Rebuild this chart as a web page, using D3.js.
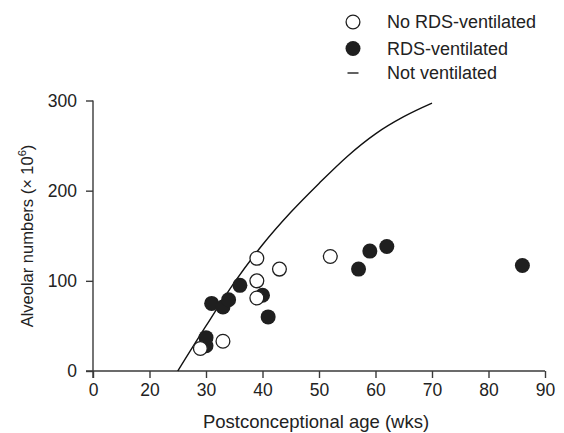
<!DOCTYPE html>
<html>
<head>
<meta charset="utf-8">
<script src="https://cdn.jsdelivr.net/npm/d3@7"></script>
<style>
    html, body { margin: 0; padding: 0; background: #fff; }
    svg { display: block; font-family: "Liberation Sans", Arial, Helvetica, sans-serif; }
    .axis path, .axis line { stroke: #3a3a3a; stroke-width: 1.4; }
    .axis text { fill: #222; font-size: 17.5px; }
</style>
</head>
<body>
<svg id="chart" width="564" height="433"></svg>
<script>
// values
const noRdsAge = [29, 33, 39, 39, 39, 43, 52]
const noRdsAlv = [25, 33, 125, 100, 81, 113, 127]

const rdsAge = [30, 30, 31, 33, 34, 36, 40, 41, 57, 59, 62, 86]
const rdsAlv = [28, 37, 75, 71, 79, 95, 84, 60, 113, 133, 138, 117]

// "Not ventilated" reference curve
const curveAge = [25, 30, 35, 40, 45, 50, 55, 60, 65, 70]
const curveAlv = [0, 50, 98, 140, 176, 208, 238, 263, 282, 297]

// x axis: first tick stands for the origin (axis is shortened before 20)
const xTickValues = [10, 20, 30, 40, 50, 60, 70, 80, 90]
const xTickLabels = ['0', '20', '30', '40', '50', '60', '70', '80', '90']
const yTickValues = [0, 100, 200, 300]

const legendLabels = ['No RDS-ventilated', 'RDS-ventilated', 'Not ventilated']

const svg = d3.select('#chart')

const x = d3.scaleLinear().domain([10, 90]).range([93, 545])
const y = d3.scaleLinear().domain([0, 300]).range([371, 100.5])

svg.append('g')
    .attr('class', 'axis')
    .attr('transform', `translate(0,${y(0)})`)
    .call(d3.axisBottom(x)
        .tickValues(xTickValues)
        .tickFormat((d, i) => xTickLabels[i])
        .tickSizeOuter(0)
        .tickSize(7)
        .tickPadding(6))
    .call(g => g.select('.domain').attr('d', `M${x(10) - 7},0H${x(90)}`))

svg.append('g')
    .attr('class', 'axis')
    .attr('transform', `translate(${x(10)},0)`)
    .call(d3.axisLeft(y)
        .tickValues(yTickValues)
        .tickSizeOuter(0)
        .tickSize(7)
        .tickPadding(9))
    .call(g => g.select('.domain').attr('d', `M0,${y(300)}V${y(0) + 7}`))

svg.append('text')
    .attr('x', 316)
    .attr('y', 428)
    .attr('text-anchor', 'middle')
    .attr('fill', '#222')
    .style('font-size', '18.5px')
    .text('Postconceptional age (wks)')

const yTitle = svg.append('text')
    .attr('transform', 'translate(33,236) rotate(-90)')
    .attr('text-anchor', 'middle')
    .attr('fill', '#222')
    .style('font-size', '16.5px')
yTitle.append('tspan').text('Alveolar numbers (\u00d7 10')
yTitle.append('tspan').attr('dy', -7).style('font-size', '11px').text('6')
yTitle.append('tspan').attr('dy', 7).text(')')

// curve
const curvePts = curveAge.map((a, i) => [a, curveAlv[i]])
svg.append('path')
    .datum(curvePts)
    .attr('fill', 'none')
    .attr('stroke', '#111')
    .attr('stroke-width', 1.4)
    .attr('d', d3.line().x(d => x(d[0])).y(d => y(d[1])).curve(d3.curveMonotoneX))

const r = 7.5

svg.append('g')
    .selectAll('circle')
    .data(rdsAge.map((a, i) => [a, rdsAlv[i]]))
    .join('circle')
    .attr('cx', d => x(d[0]))
    .attr('cy', d => y(d[1]))
    .attr('r', r)
    .attr('fill', '#1f1f1f')

svg.append('g')
    .selectAll('circle')
    .data(noRdsAge.map((a, i) => [a, noRdsAlv[i]]))
    .join('circle')
    .attr('cx', d => x(d[0]))
    .attr('cy', d => y(d[1]))
    .attr('r', r - 0.6)
    .attr('fill', '#fff')
    .attr('stroke', '#1f1f1f')
    .attr('stroke-width', 1.3)

// legend
const legend = svg.append('g').attr('transform', 'translate(353,0)')
const rowY = [22, 48.5, 73]
legend.append('circle').attr('cy', rowY[0]).attr('r', r - 0.6)
    .attr('fill', '#fff').attr('stroke', '#1f1f1f').attr('stroke-width', 1.3)
legend.append('circle').attr('cy', rowY[1]).attr('r', r).attr('fill', '#1f1f1f')
legend.append('line').attr('x1', -5.5).attr('x2', 5.5).attr('y1', rowY[2]).attr('y2', rowY[2])
    .attr('stroke', '#1f1f1f').attr('stroke-width', 1.4)
legend.selectAll('text')
    .data(legendLabels)
    .join('text')
    .attr('x', 34)
    .attr('y', (d, i) => rowY[i])
    .attr('dy', '0.36em')
    .attr('fill', '#222')
    .style('font-size', '18px')
    .text(d => d)
</script>
</body>
</html>
